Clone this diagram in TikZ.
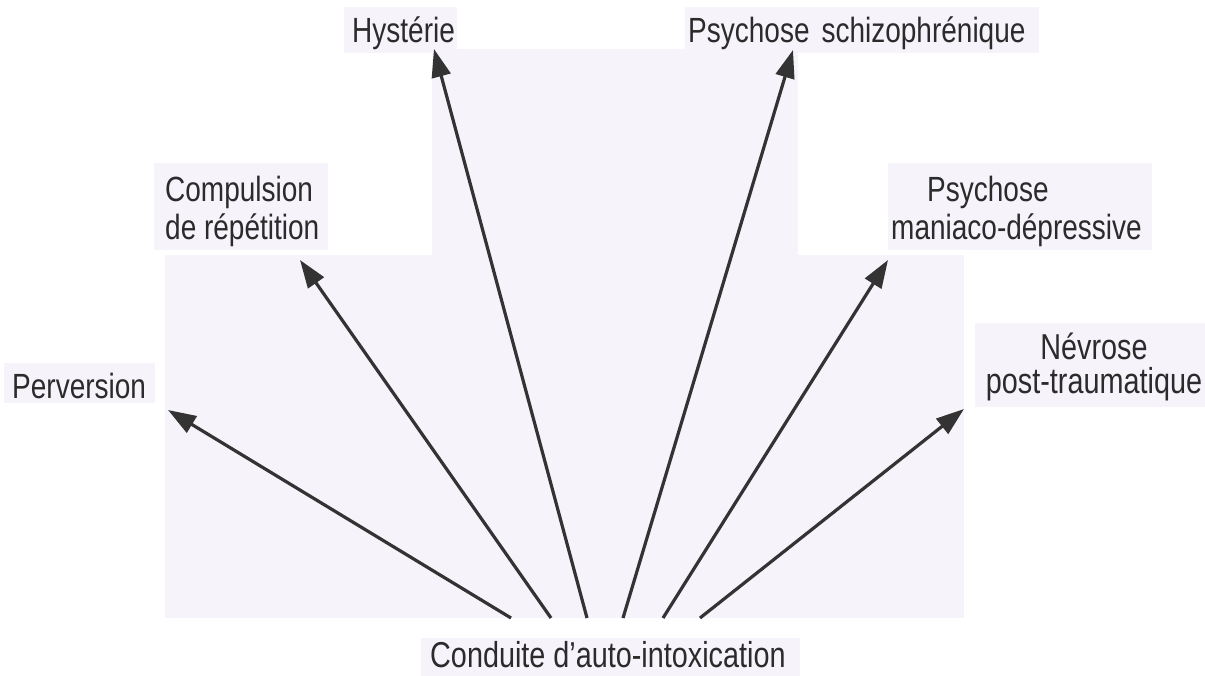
\documentclass[tikz,border=0pt]{standalone}
\usepackage{fontspec}
\setmainfont{Liberation Sans}[FakeStretch=0.8]
\usetikzlibrary{arrows.meta}
\definecolor{lav}{HTML}{F6F3FB}
\definecolor{ink}{HTML}{333333}
\definecolor{txt}{HTML}{2B2B2B}
\begin{document}
\begin{tikzpicture}[x=1pt,y=-1pt,
  lbl/.style={inner sep=0pt, text=txt, font=\fontsize{35}{38}\selectfont},
  arr/.style={draw=ink, line width=3.2pt, -{Triangle[length=28pt,width=19pt]}}]
\useasboundingbox (0,0) rectangle (1205,676);
\fill[white] (0,0) rectangle (1205,676);
% background panel
\fill[lav] (432,49) rectangle (798,256);
\fill[lav] (165,255) rectangle (964,618);
% label backgrounds
\fill[lav] (344,7) rectangle (457,53);
\fill[lav] (685,7) rectangle (1039,53);
\fill[lav] (154,163) rectangle (328,250);
\fill[lav] (888,163) rectangle (1152,250);
\fill[lav] (4,363) rectangle (155,403);
\fill[lav] (975,323) rectangle (1205,407);
\fill[lav] (421,638) rectangle (800,676);
% labels
\node[lbl, anchor=base west] (hys) at (352,43) {Hystérie};
\node[lbl, anchor=base west] (sch) at (688,43) {Psychose\hspace{12pt}schizophrénique};
\node[lbl, anchor=north west, align=left] (comp) at (165,176) {Compulsion\\de répétition};
\node[lbl, anchor=north west, align=left] (man) at (891,176) {\hspace*{36pt}Psychose\\maniaco-dépressive};
\node[lbl, anchor=base west] (per) at (12,398) {Perversion};
\node[lbl, anchor=north, align=center, font=\fontsize{36}{34}\selectfont] (nev) at (1094,333) {Névrose\\post-traumatique};
\node[lbl, anchor=base west, font=\fontsize{36}{40}\selectfont] (cond) at (430,667) {Conduite d’auto-intoxication};
% arrow ends
\coordinate (s1) at (511,618); \coordinate (t1) at (168,410);
\coordinate (s2) at (551,618); \coordinate (t2) at (300,260);
\coordinate (s3) at (587,618); \coordinate (t3) at (434,49);
\coordinate (s4) at (623,618); \coordinate (t4) at (793,50);
\coordinate (s5) at (663,618); \coordinate (t5) at (888,260);
\coordinate (s6) at (700,618); \coordinate (t6) at (964,409);
\draw[arr] (s1) -- (t1);
\draw[arr] (s2) -- (t2);
\draw[arr] (s3) -- (t3);
\draw[arr] (s4) -- (t4);
\draw[arr] (s5) -- (t5);
\draw[arr] (s6) -- (t6);
\end{tikzpicture}
\end{document}
